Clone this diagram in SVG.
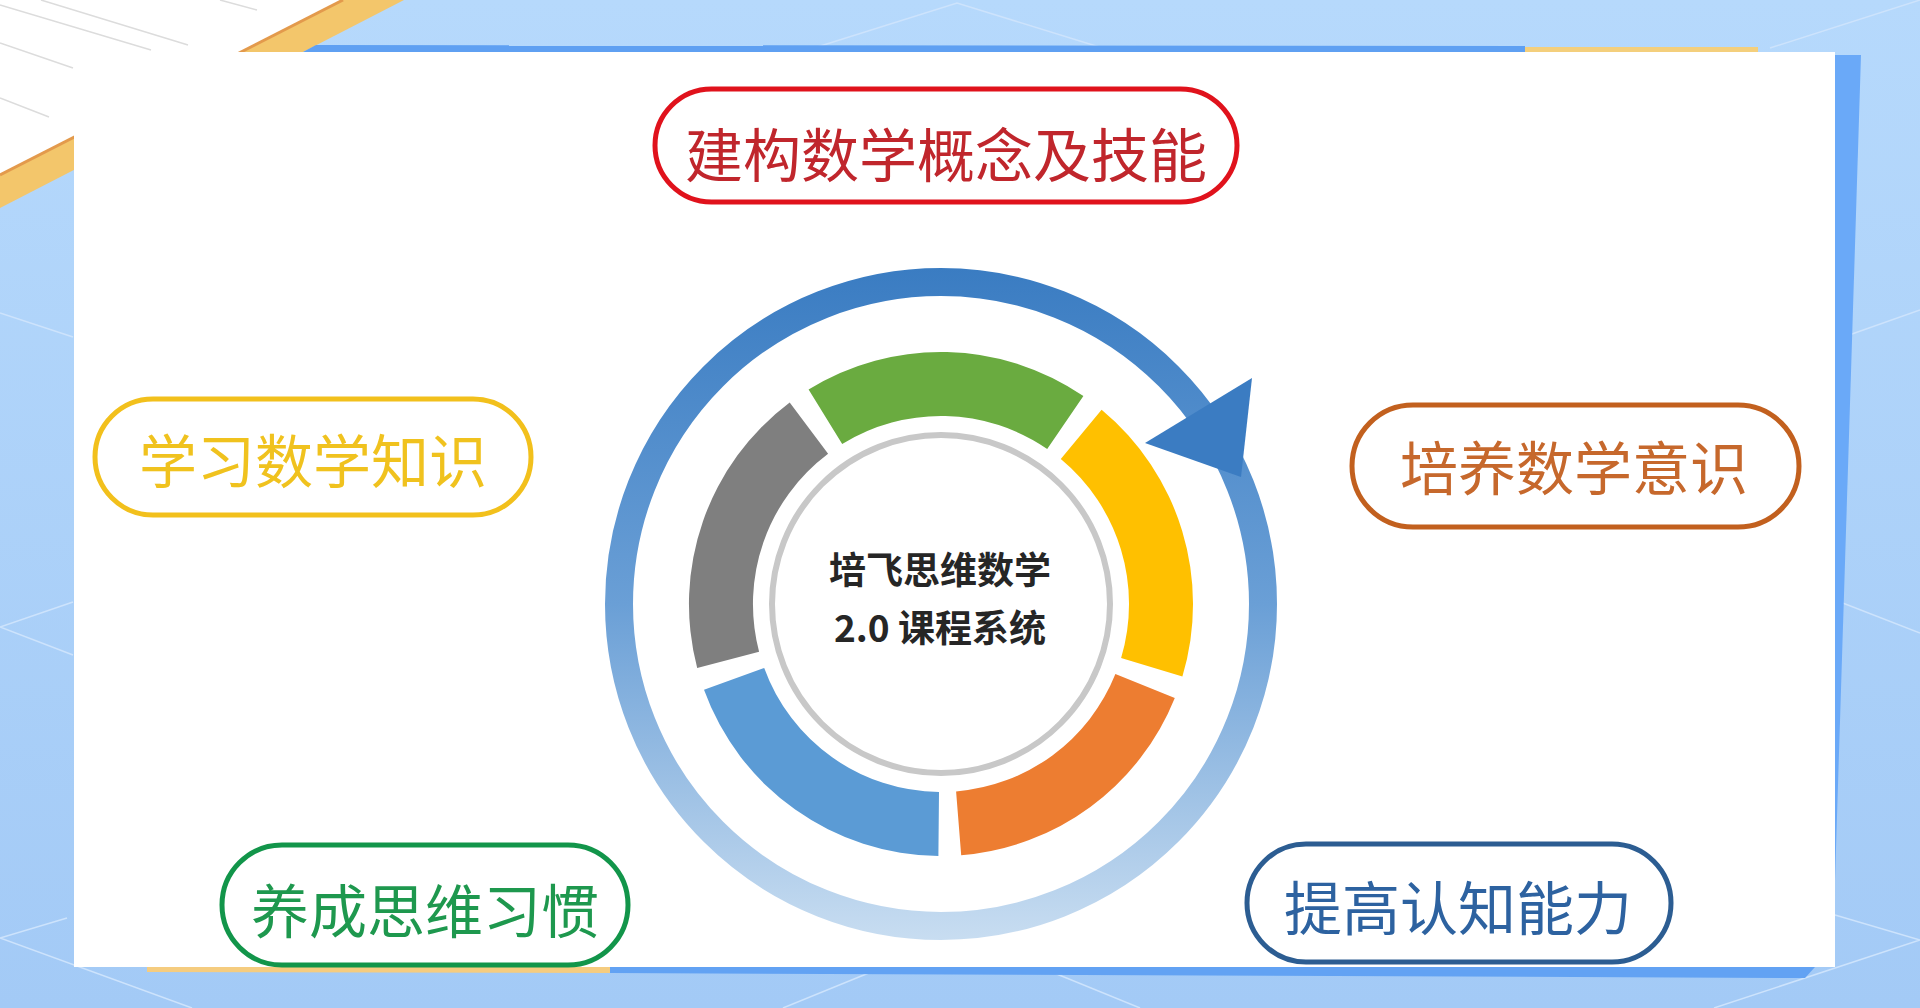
<svg xmlns="http://www.w3.org/2000/svg" width="1920" height="1008" viewBox="0 0 1920 1008">
<defs>
<linearGradient id="bg" x1="0" y1="0" x2="0" y2="1">
<stop offset="0" stop-color="#b6d9fc"/>
<stop offset="1" stop-color="#a3caf6"/>
</linearGradient>
<linearGradient id="ringGrad" gradientUnits="userSpaceOnUse" x1="0" y1="268" x2="0" y2="940">
<stop offset="0" stop-color="#3a7cc2"/>
<stop offset="0.5" stop-color="#6a9fd6"/>
<stop offset="1" stop-color="#c8ddf1"/>
</linearGradient>
<style>
.pill{fill:#ffffff;stroke-width:5}
.lbl{font-family:"Noto Sans CJK SC","Noto Sans",sans-serif;font-size:58px;text-anchor:middle;dominant-baseline:central}
.ctr{font-family:"Noto Sans CJK SC","Noto Sans",sans-serif;font-size:37px;font-weight:700;fill:#262626;text-anchor:middle;dominant-baseline:central}
.bgl{stroke:#cde3fc;stroke-width:1.5;fill:none}
.pap{stroke:#dcdcdc;stroke-width:1.5;fill:none}
</style>
</defs>

<!-- background -->
<rect x="0" y="0" width="1920" height="1008" fill="url(#bg)"/>
<g>
<path class="bgl" d="M814,48 L957,3 L1109,50"/>
<path class="bgl" d="M1770,48 L1920,0"/>
<path class="bgl" d="M1835,340 L1920,310"/>
<path class="bgl" d="M1835,600 L1920,633"/>
<path class="bgl" d="M1835,915 L1920,940 L1714,1008"/>
<path class="bgl" d="M73,337 L0,313"/>
<path class="bgl" d="M73,602 L0,627 L73,655"/>
<path class="bgl" d="M67,918 L0,938 L192,1008"/>
<path class="bgl" d="M783,1008 L881,968"/>
<path class="bgl" d="M1042,968 L1140,1008"/>
</g>
<!-- top-left paper and stripe -->
<polygon points="0,0 343,0 0,175" fill="#ffffff"/>
<path class="pap" d="M41,0 L188,45 M0,5 L151,50 M0,43 L73,68 M0,98 L49,117 M220,0 L257,10"/>
<polygon points="343,0 404,0 0,208 0,175" fill="#f3c66b"/>
<line x1="343" y1="0" x2="0" y2="175" stroke="#e39a4c" stroke-width="3"/>

<!-- panel edges -->
<polygon points="316,45 1525,46 1525,52 303,52" fill="#5fa0f2"/>
<polygon points="1525,47 1758,47 1758,52 1525,52" fill="#f4cf7c"/>
<polygon points="1835,55 1861,55 1835,880" fill="#6aa9f8"/>
<polygon points="147,967 610,967 610,973 147,972" fill="#f5cc7f"/>
<polygon points="610,967 1815,967 1805,978 610,973" fill="#62a2f3"/>
<rect id="panel" x="74" y="52" width="1761" height="915" fill="#ffffff"/>

<!-- circular arrow -->
<g id="connectors">
<circle cx="941" cy="604" r="322" fill="none" stroke="url(#ringGrad)" stroke-width="28"/>
<polygon points="1252,378 1145,443 1241,477" fill="#3b7cc2"/>
</g>

<!-- segmented ring -->
<g id="segments">
<path id="seg-yellow" fill="#ffc000" d="M1101.6,409.8 A252,252 0 0 1 1182.4,676.4 L1121.1,658.0 A188,188 0 0 0 1060.8,459.1 Z"/>
<path id="seg-orange" fill="#ed7d31" d="M1174.8,698.0 A252,252 0 0 1 961.2,855.2 L956.1,791.4 A188,188 0 0 0 1115.4,674.1 Z"/>
<path id="seg-blue" fill="#5b9bd5" d="M938.4,856.0 A252,252 0 0 1 704.0,689.8 L764.2,668.0 A188,188 0 0 0 939.0,792.0 Z"/>
<path id="seg-gray" fill="#7f7f7f" d="M697.2,668.0 A252,252 0 0 1 789.7,402.5 L828.1,453.7 A188,188 0 0 0 759.1,651.7 Z"/>
<path id="seg-green" fill="#6aab40" d="M808.6,389.6 A252,252 0 0 1 1083.4,396.1 L1047.2,448.9 A188,188 0 0 0 842.2,444.1 Z"/>
</g>

<g id="center">
<circle cx="941" cy="604" r="169" fill="#ffffff" stroke="#c8c8c8" stroke-width="6"/>
<text class="ctr" x="940" y="568">培飞思维数学</text>
<text class="ctr" x="940" y="626">2.0 课程系统</text>
</g>

<g id="node-red">
<rect class="pill" x="655" y="89" width="582" height="113" rx="56.5" stroke="#e0121c"/>
<text class="lbl" x="946" y="152" fill="#c0262c">建构数学概念及技能</text>
</g>
<g id="node-yellow">
<rect class="pill" x="95" y="399" width="436" height="116" rx="58" stroke="#f2c01c"/>
<text class="lbl" x="313" y="458" fill="#f0c21e">学习数学知识</text>
</g>
<g id="node-orange">
<rect class="pill" x="1352" y="405" width="447" height="122" rx="61" stroke="#c2601e"/>
<text class="lbl" x="1574" y="465" fill="#c6682c">培养数学意识</text>
</g>
<g id="node-green">
<rect class="pill" x="222" y="845" width="406" height="120" rx="60" stroke="#12954a"/>
<text class="lbl" x="425" y="908" fill="#1e984e">养成思维习惯</text>
</g>
<g id="node-blue">
<rect class="pill" x="1247" y="844" width="424" height="118" rx="59" stroke="#2c5d92"/>
<text class="lbl" x="1458" y="905" fill="#2d62a0">提高认知能力</text>
</g>
</svg>
